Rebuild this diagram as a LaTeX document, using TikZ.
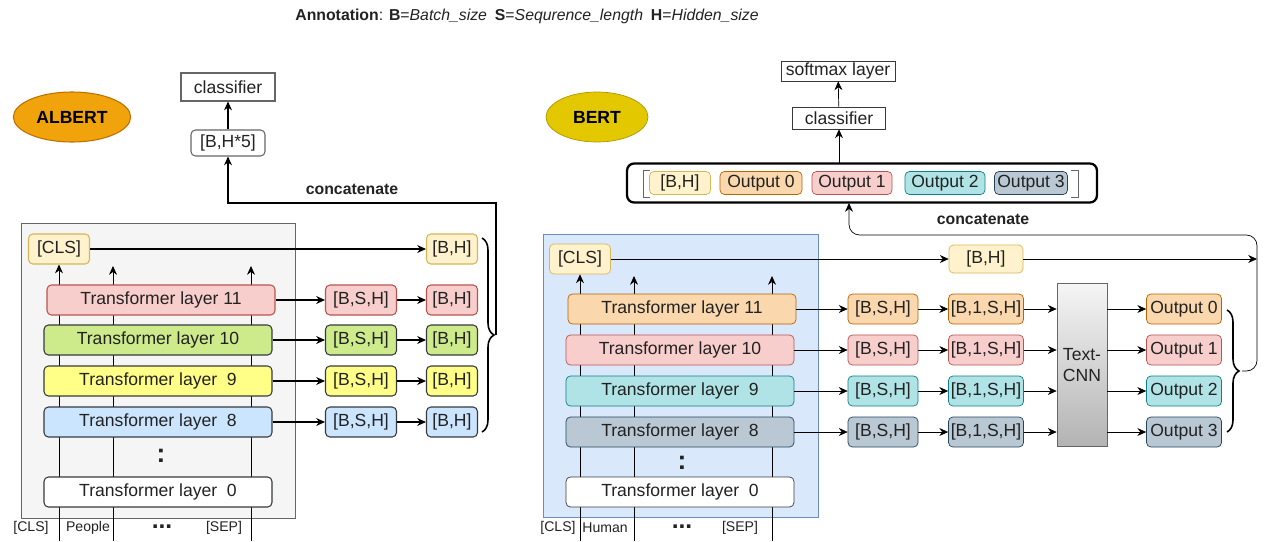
\documentclass[tikz,border=0pt]{standalone}
\usepackage{fontspec}
\setmainfont{Liberation Sans}
\usetikzlibrary{arrows.meta,positioning,shapes.geometric,decorations.pathreplacing}

% colours (fill / line)
\definecolor{txt}{HTML}{222222}
\definecolor{gr}{HTML}{666666}
\definecolor{cY}{HTML}{FFF2CC}\definecolor{lY}{HTML}{D6B656}
\definecolor{cO}{HTML}{FAD7AC}\definecolor{lO}{HTML}{B46504}
\definecolor{cR}{HTML}{F8CECC}\definecolor{lR}{HTML}{B85450}
\definecolor{cT}{HTML}{B0E3E6}\definecolor{lT}{HTML}{0E8088}
\definecolor{cS}{HTML}{BAC8D3}\definecolor{lS}{HTML}{23445D}
\definecolor{cG}{HTML}{CDEB8B}\definecolor{cL}{HTML}{FFFF88}
\definecolor{cB}{HTML}{CCE5FF}\definecolor{lD}{HTML}{36393D}
\definecolor{boxA}{HTML}{F5F5F5}
\definecolor{boxB}{HTML}{DAE8FC}\definecolor{lineB}{HTML}{6C8EBF}
\definecolor{albF}{HTML}{F0A30A}\definecolor{albD}{HTML}{BD7000}
\definecolor{bertF}{HTML}{E3C800}\definecolor{bertD}{HTML}{B09500}
\definecolor{cnnTop}{HTML}{F5F5F5}\definecolor{cnnBot}{HTML}{B3B3B3}

\pgfdeclarelayer{background}
\pgfsetlayers{background,main}

\begin{document}
\begin{tikzpicture}[
    x=0.02cm, y=-0.02cm, line width=0.6pt,
    >={Stealth[length=5pt,width=4.5pt]},
    every node/.style={font=\fontsize{10}{12}\selectfont, text=txt},
    cell/.style={rectangle, rounded corners=2.5pt, draw, minimum height=0.6cm, inner sep=1pt},
    layer/.style={cell, minimum width=4.56cm},
    bsh/.style={cell, minimum width=1.42cm},
    bh/.style={cell, minimum width=1.02cm},
    cls/.style={cell, fill=cY, draw=lY, minimum width=1.22cm},
    model/.style={ellipse, minimum width=2.04cm, minimum height=1.0cm, font=\bfseries\fontsize{10}{12}\selectfont},
    plainbox/.style={rectangle, draw=gr, inner sep=1pt},
    tok/.style={font=\fontsize{8}{10}\selectfont},
    vdots/.style={font=\bfseries\fontsize{15}{15}\selectfont},
    hdots/.style={font=\bfseries\fontsize{14}{14}\selectfont},
    catlabel/.style={font=\bfseries\fontsize{9}{11}\selectfont},
    bracelr/.style={decorate, decoration={brace, amplitude=0.24cm}, line width=0.9pt}
]
\useasboundingbox (0,0) rectangle (1264,541);

% Annotation
\node[font=\fontsize{9}{11}\selectfont] (note) at (527,16)
  {\textbf{Annotation}: \textbf{B}=\textit{Batch\_size}\enspace \textbf{S}=\textit{Sequrence\_length}\enspace \textbf{H}=\textit{Hidden\_size}};

%%%%%%%%%%%%%%%% ALBERT %%%%%%%%%%%%%%%%
\node[model, fill=albF, draw=albD, text=black] (albert) at (72,117) {ALBERT};
\node[plainbox, minimum width=1.88cm, minimum height=0.56cm] (clfA) at (228,87) {classifier};
\node[cell, draw=gr, minimum width=1.48cm, minimum height=0.52cm] (bh5) at (228,143) {[B,H*5]};

\node[cls] (clsA) at (59,249) {[CLS]};
\node[bh, fill=cY, draw=lY] (hAc) at (452,249) {[B,H]};

% Transformer layers
\node[layer, fill=cR, draw=lR] (a11) at (161,300) {Transformer layer 11};
\node[layer, fill=cG, draw=lD] (a10) at (158,340) {Transformer layer 10};
\node[layer, fill=cL, draw=lD] (a9) at (158,381) {Transformer layer\ \ 9};
\node[layer, fill=cB, draw=lD] (a8) at (158,422) {Transformer layer\ \ 8};
\node[vdots] (vdA) at (161,456) {:};
\node[layer, fill=white, draw=lD] (a0) at (158,492) {Transformer layer\ \ 0};

% Hidden states
\node[bsh, fill=cR, draw=lR] (sA11) at (361,300) {[B,S,H]};
\node[bsh, fill=cG, draw=lD] (sA10) at (361,340) {[B,S,H]};
\node[bsh, fill=cL, draw=lD] (sA9) at (361,381) {[B,S,H]};
\node[bsh, fill=cB, draw=lD] (sA8) at (361,422) {[B,S,H]};

\node[bh, fill=cR, draw=lR] (hA11) at (452,300) {[B,H]};
\node[bh, fill=cG, draw=lD] (hA10) at (452,340) {[B,H]};
\node[bh, fill=cL, draw=lD] (hA9) at (452,381) {[B,H]};
\node[bh, fill=cB, draw=lD] (hA8) at (452,422) {[B,H]};

% Input tokens
\node[tok] (tA1) at (31,528) {[CLS]};
\node[tok] (tA2) at (88,528) {People};
\node[hdots] (tA3) at (162,527) {...};
\node[tok] (tA4) at (224,528) {[SEP]};

% Arrows
\draw[->] (clsA) -- (hAc);
\draw[->] (a11) -- (sA11);
\draw[->] (a10) -- (sA10);
\draw[->] (a9) -- (sA9);
\draw[->] (a8) -- (sA8);
\draw[->] (sA11) -- (hA11);
\draw[->] (sA10) -- (hA10);
\draw[->] (sA9) -- (hA9);
\draw[->] (sA8) -- (hA8);

% Concatenate
\draw[bracelr] (482,238) -- (482,432);
\coordinate (tipA) at (496,335);
\coordinate (turnA) at (496,203);
\draw[->] (tipA) -- (turnA) -| (bh5);
\draw[->] (bh5) -- (clfA);
\node[catlabel] (catA) at (352,189) {concatenate};

\begin{pgfonlayer}{background}
\draw[draw=gr, fill=boxA] (21,223) rectangle (295,518);
\coordinate (inA1) at (59,541);
\coordinate (inA2) at (113,541);
\coordinate (inA3) at (251,541);
\coordinate (upA2) at (113,266);
\coordinate (upA3) at (251,266);
\draw[->] (inA1) -- (clsA);
\draw[->] (inA2) -- (upA2);
\draw[->] (inA3) -- (upA3);
\end{pgfonlayer}

%%%%%%%%%%%%%%%% BERT %%%%%%%%%%%%%%%%
\node[model, fill=bertF, draw=bertD, text=black] (bert) at (597,117) {BERT};
\node[plainbox, draw=lD, minimum width=2.28cm, minimum height=0.4cm] (soft) at (838,71) {softmax layer};
\node[plainbox, draw=lD, minimum width=1.86cm, minimum height=0.44cm] (clfB) at (839,118) {classifier};

% Concatenated outputs
\node[draw=black, line width=1.3pt, rounded corners=4pt, minimum width=9.4cm, minimum height=0.78cm] (cat) at (862,183) {};
\draw[gr] (650,170) -- (643,170) -- (643,197) -- (650,197);
\draw[gr] (1071,170) -- (1078,170) -- (1078,197) -- (1071,197);
\node[cell, fill=cY, draw=lY, minimum width=1.22cm, minimum height=0.46cm] (catH) at (680,183) {[B,H]};
\node[cell, fill=cO, draw=lO, minimum width=1.64cm, minimum height=0.46cm] (cat0) at (761,183) {Output 0};
\node[cell, fill=cR, draw=lR, minimum width=1.6cm, minimum height=0.46cm] (cat1) at (852,183) {Output 1};
\node[cell, fill=cT, draw=lT, minimum width=1.6cm, minimum height=0.46cm] (cat2) at (945,183) {Output 2};
\node[cell, fill=cS, draw=lS, minimum width=1.46cm, minimum height=0.46cm] (cat3) at (1031,183) {Output 3};

\coordinate (catOut) at (839,164);
\coordinate (catIn) at (849,203);
\draw[->] (catOut) -- (clfB);
\draw[->] (clfB) -- (soft);

\node[cls] (clsB) at (580,259) {[CLS]};
\node[cell, fill=cY, draw=lY, minimum width=1.48cm, minimum height=0.56cm] (hBc) at (986,259) {[B,H]};

% Transformer layers
\node[layer, fill=cO, draw=lO] (b11) at (682,309) {Transformer layer 11};
\node[layer, fill=cR, draw=lR] (b10) at (680,350) {Transformer layer 10};
\node[layer, fill=cT, draw=lT] (b9) at (680,391) {Transformer layer\ \ 9};
\node[layer, fill=cS, draw=lS] (b8) at (680,432) {Transformer layer\ \ 8};
\node[vdots] (vdB) at (682,463) {:};
\node[layer, fill=white, draw=lD] (b0) at (680,492) {Transformer layer\ \ 0};

% Hidden states
\node[bsh, fill=cO, draw=lO, minimum width=1.4cm] (sB11) at (883,309) {[B,S,H]};
\node[bsh, fill=cR, draw=lR, minimum width=1.4cm] (sB10) at (883,350) {[B,S,H]};
\node[bsh, fill=cT, draw=lT, minimum width=1.4cm] (sB9) at (883,391) {[B,S,H]};
\node[bsh, fill=cS, draw=lS, minimum width=1.4cm] (sB8) at (883,432) {[B,S,H]};

\node[bsh, fill=cO, draw=lO, minimum width=1.5cm] (uB11) at (986,309) {[B,1,S,H]};
\node[bsh, fill=cR, draw=lR, minimum width=1.5cm] (uB10) at (986,350) {[B,1,S,H]};
\node[bsh, fill=cT, draw=lT, minimum width=1.5cm] (uB9) at (986,391) {[B,1,S,H]};
\node[bsh, fill=cS, draw=lS, minimum width=1.5cm] (uB8) at (986,432) {[B,1,S,H]};

% Text-CNN
\node[draw=gr, top color=cnnTop, bottom color=cnnBot, minimum width=1.0cm, minimum height=3.26cm, align=center, inner sep=1pt] (cnn) at (1082,365) {Text-\\CNN};

\node[bsh, fill=cO, draw=lO, minimum width=1.5cm] (o0) at (1184,309) {Output 0};
\node[bsh, fill=cR, draw=lR, minimum width=1.5cm] (o1) at (1184,350) {Output 1};
\node[bsh, fill=cT, draw=lT, minimum width=1.5cm] (o2) at (1184,391) {Output 2};
\node[bsh, fill=cS, draw=lS, minimum width=1.5cm] (o3) at (1184,432) {Output 3};

% Input tokens
\node[tok] (tB1) at (558,528) {[CLS]};
\node[tok] (tB2) at (605,528) {Human};
\node[hdots] (tB3) at (682,527) {...};
\node[tok] (tB4) at (740,528) {[SEP]};

% Arrows
\draw[->] (clsB) -- (hBc);
\draw[->] (b11) -- (sB11);
\draw[->] (b10) -- (sB10);
\draw[->] (b9) -- (sB9);
\draw[->] (b8) -- (sB8);
\draw[->] (sB11) -- (uB11);
\draw[->] (sB10) -- (uB10);
\draw[->] (sB9) -- (uB9);
\draw[->] (sB8) -- (uB8);
\draw[->] (uB11) -- (uB11 -| cnn.west);
\draw[->] (uB10) -- (uB10 -| cnn.west);
\draw[->] (uB9) -- (uB9 -| cnn.west);
\draw[->] (uB8) -- (uB8 -| cnn.west);
\draw[->] (cnn.east |- o0) -- (o0);
\draw[->] (cnn.east |- o1) -- (o1);
\draw[->] (cnn.east |- o2) -- (o2);
\draw[->] (cnn.east |- o3) -- (o3);

% Concatenate
\draw[bracelr] (1227,310) -- (1227,432);
\coordinate (tipB) at (1242,371);
\coordinate (turnB) at (1257,235);
\draw[->, rounded corners=6pt] (tipB) -| (turnB) -| (catIn);
\draw[->] (hBc) -- (hBc -| turnB);
\node[catlabel] (catB) at (983,219) {concatenate};

\begin{pgfonlayer}{background}
\draw[draw=lineB, fill=boxB] (543,234) rectangle (818,517);
\coordinate (inB1) at (580,541);
\coordinate (inB2) at (634,541);
\coordinate (inB3) at (772,541);
\coordinate (upB2) at (634,276);
\coordinate (upB3) at (772,276);
\draw[->] (inB1) -- (clsB);
\draw[->] (inB2) -- (upB2);
\draw[->] (inB3) -- (upB3);
\end{pgfonlayer}

\end{tikzpicture}
\end{document}
